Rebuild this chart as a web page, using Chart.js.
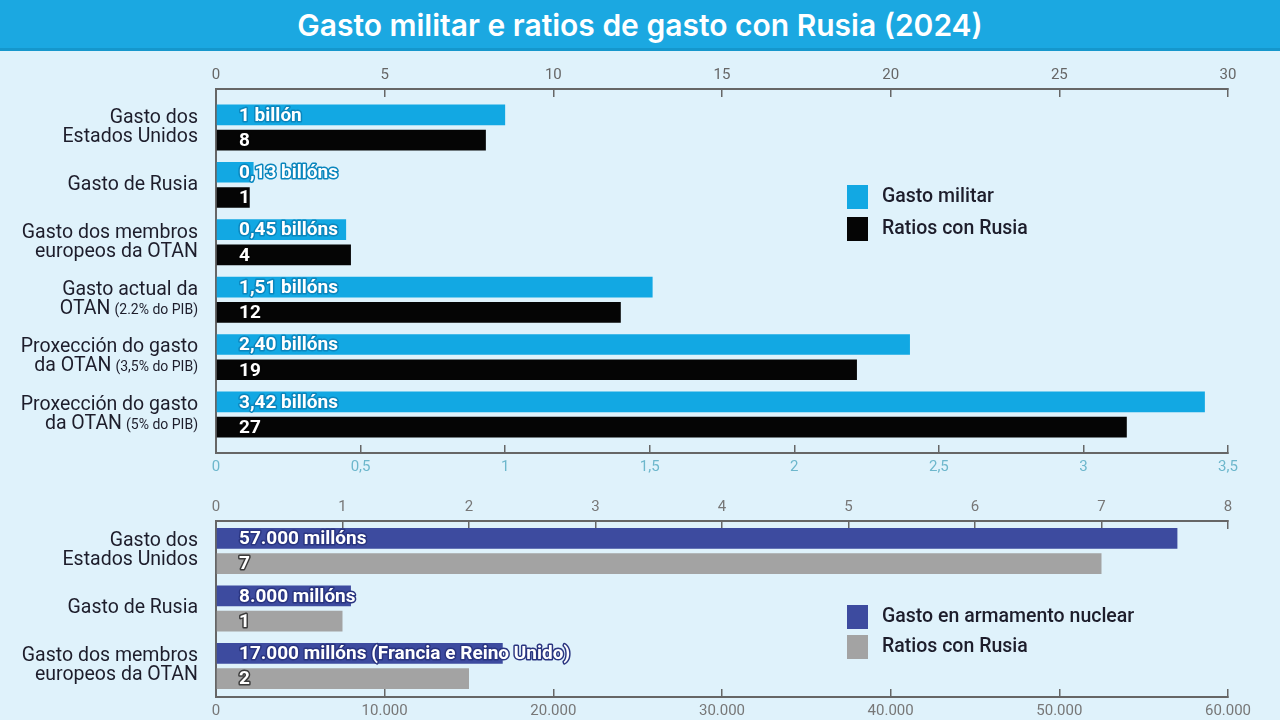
<!DOCTYPE html>
<html>
<head>
<meta charset="utf-8">
<script src="https://cdn.jsdelivr.net/npm/chart.js@4.4.1/dist/chart.umd.min.js"></script>
<style>
  html, body { margin: 0; padding: 0; width: 1280px; height: 720px; overflow: hidden; background: #dff2fb; }
  #title { position: absolute; left: 0; top: 0; width: 1280px; height: 48px; background: #1ba8e1;
           border-bottom: 3px solid #1597cc; color: #fff; font: 600 30px Inter, sans-serif;
           text-align: center; line-height: 50px; }
  .box { position: absolute; left: 0; width: 1280px; }
</style>
</head>
<body>
<div id="title">Gasto militar e ratios de gasto con Rusia (2024)</div>
<div class="box" style="top:55px;height:430px"><canvas id="topChart"></canvas></div>
<div class="box" style="top:490px;height:230px"><canvas id="bottomChart"></canvas></div>
<script>
// top panel
const catsTop = [["Gasto dos", "Estados Unidos"], ["Gasto de Rusia"], ["Gasto dos membros", "europeos da OTAN"],
  ["Gasto actual da", "OTAN"], ["Proxección do gasto", "da OTAN"], ["Proxección do gasto", "da OTAN"]];
const notesTop = ["", "", "", "(2.2% do PIB)", "(3,5% do PIB)", "(5% do PIB)"];
const gastoMilitar = [1, 0.13, 0.45, 1.51, 2.40, 3.42]; // billóns
const gastoMilitarLabels = ["1 billón", "0,13 billóns", "0,45 billóns", "1,51 billóns", "2,40 billóns", "3,42 billóns"];
const ratiosTop = [8, 1, 4, 12, 19, 27];

// bottom panel
const catsBottom = [["Gasto dos", "Estados Unidos"], ["Gasto de Rusia"], ["Gasto dos membros", "europeos da OTAN"]];
const notesBottom = ["", "", ""];
const gastoNuclear = [57000, 8000, 17000]; // millóns
const gastoNuclearLabels = ["57.000 millóns", "8.000 millóns", "17.000 millóns (Francia e Reino Unido)"];
const ratiosBottom = [7, 1, 2];

Chart.defaults.font.family = 'Roboto';
Chart.defaults.animation = false;

const fmt = v => {
  let [a, b] = String(v).split('.');
  a = a.replace(/\B(?=(\d{3})+(?!\d))/g, '.');
  return b ? a + ',' + b : a;
};

const decor = {
  id: 'decor',
  afterDatasetsDraw(chart, args, o) {
    const ctx = chart.ctx, ys = chart.scales.y, left = chart.chartArea.left;
    ctx.save();
    ctx.textBaseline = 'middle';
    // category labels
    o.cats.forEach((lines, i) => {
      const cy = ys.getPixelForValue(i);
      const lh = 19;
      let ly = cy - (lines.length - 1) * lh / 2;
      lines.forEach((t, j) => {
        ctx.fillStyle = '#1d1d2b';
        ctx.textAlign = 'right';
        let x = left - 18;
        const note = j === lines.length - 1 ? o.notes[i] : '';
        if (note) {
          ctx.font = '14px Roboto';
          ctx.fillText(note, x, ly + 1);
          x -= ctx.measureText(note).width + 4;
        }
        ctx.font = '19.5px Roboto';
        ctx.fillText(t, x, ly);
        ly += lh;
      });
    });
    // bar labels
    chart.data.datasets.forEach((ds, d) => {
      chart.getDatasetMeta(d).data.forEach((bar, i) => {
        const t = String(o.barLabels[d][i]);
        ctx.font = 'bold 19px Roboto';
        ctx.textAlign = 'left';
        ctx.lineWidth = 3;
        ctx.lineJoin = 'round';
        ctx.strokeStyle = o.strokes[d];
        ctx.strokeText(t, left + 23, bar.y + 1);
        ctx.fillStyle = '#fff';
        ctx.fillText(t, left + 23, bar.y + 1);
      });
    });
    // legend
    chart.data.datasets.forEach((ds, d) => {
      const cy = o.legend.y + d * o.legend.gap;
      ctx.fillStyle = ds.backgroundColor;
      ctx.fillRect(o.legend.x, cy - 12, 21, 24);
      ctx.fillStyle = '#1d1d2b';
      ctx.font = '500 19.5px Roboto';
      ctx.textAlign = 'left';
      ctx.fillText(ds.label, o.legend.x + 35, cy);
    });
    ctx.restore();
  }
};

function xAxis(pos, max, step, color, h) {
  return {
    type: 'linear', position: pos, min: 0, max: max,
    ticks: { stepSize: step, padding: 13, color: color, font: { size: 15 }, maxRotation: 0, autoSkip: false, callback: fmt },
    grid: { drawOnChartArea: false, tickLength: -8, color: '#666', lineWidth: 1.5 },
    border: { color: '#666', width: 2 },
    afterFit: s => { s.height = h; }
  };
}

function makeChart(id, cats, notes, vals, valLabels, ratios, ratioLabels, names, colors, strokes, axes, yRange, legend) {
  return new Chart(document.getElementById(id), {
    type: 'bar',
    data: {
      datasets: [
        { label: names[0], data: vals.map((v, i) => ({ x: v, y: i })), xAxisID: 'xb',
          backgroundColor: colors[0], barPercentage: 0.82, categoryPercentage: 0.88 },
        { label: names[1], data: ratios.map((v, i) => ({ x: v, y: i })), xAxisID: 'xt',
          backgroundColor: colors[1], barPercentage: 0.82, categoryPercentage: 0.88 }
      ]
    },
    options: {
      indexAxis: 'y',
      responsive: true,
      maintainAspectRatio: false,
      layout: { padding: { left: 0, right: 52, top: 0, bottom: 0 } },
      scales: {
        y: {
          type: 'linear', reverse: true, offset: false, min: yRange[0], max: yRange[1],
          ticks: { display: false }, grid: { display: false },
          border: { color: '#666', width: 2 },
          afterBuildTicks: s => { s.ticks = cats.map((c, i) => ({ value: i })); },
          afterFit: s => { s.width = 216; }
        },
        xt: axes.xt,
        xb: axes.xb
      },
      plugins: {
        legend: { display: false },
        tooltip: { enabled: false },
        decor: { cats: cats, notes: notes, barLabels: [valLabels, ratioLabels], strokes: strokes, legend: legend }
      }
    },
    plugins: [decor]
  });
}

makeChart('topChart', catsTop, notesTop, gastoMilitar, gastoMilitarLabels, ratiosTop, ratiosTop,
  ['Gasto militar', 'Ratios con Rusia'], ['#12a8e3', '#050505'], ['#0b86bd', '#050505'],
  { xt: xAxis('top', 30, 5, '#666', 34), xb: xAxis('bottom', 3.5, 0.5, '#6db7cc', 32) },
  [-0.67, 5.67], { x: 847, y: 142, gap: 32 });

makeChart('bottomChart', catsBottom, notesBottom, gastoNuclear, gastoNuclearLabels, ratiosBottom, ratiosBottom,
  ['Gasto en armamento nuclear', 'Ratios con Rusia'], ['#3d4b9f', '#a3a3a3'], ['#2a3580', '#3a3a3a'],
  { xt: xAxis('top', 8, 1, '#777', 31), xb: xAxis('bottom', 60000, 10000, '#777', 23) },
  [-0.52, 2.54], { x: 847, y: 127, gap: 30 });
</script>
</body>
</html>
